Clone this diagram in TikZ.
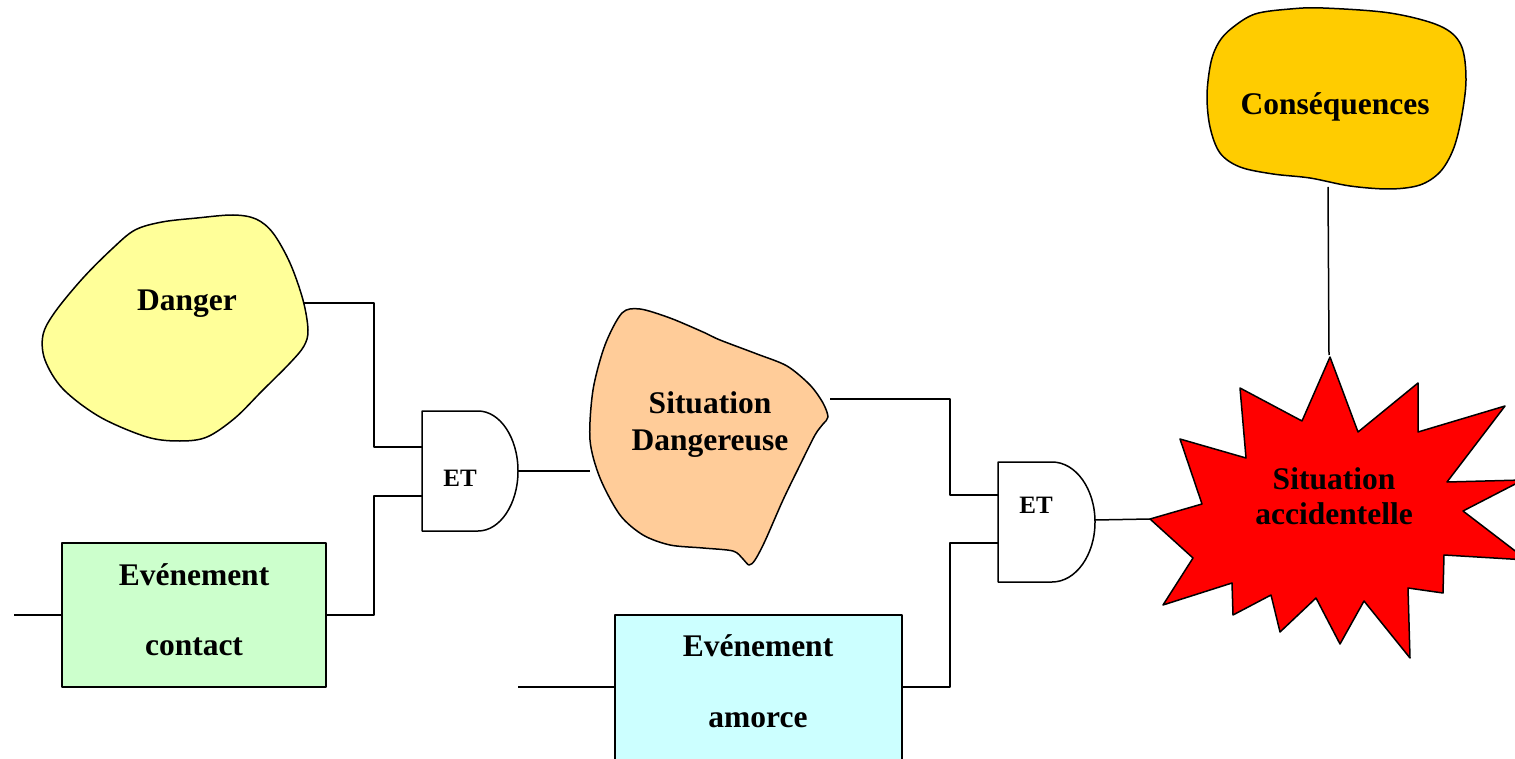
\documentclass[tikz,border=0pt]{standalone}
\usepackage{fontspec}
\setmainfont{Liberation Serif}
\begin{document}
\begin{tikzpicture}[x=1pt,y=1pt,line join=round,
  outline/.style={draw=black,line width=1.5pt},
  wire/.style={draw=black,line width=1.5pt},
  label/.style={font=\bfseries\fontsize{31.5}{36}\selectfont,inner sep=0pt,align=center},
  gatelabel/.style={font=\bfseries\fontsize{25}{30}\selectfont,inner sep=0pt},
  gate/.style={outline,fill=white}]
\useasboundingbox (0,0) rectangle (1515,-759);
\clip (0,0) rectangle (1515,-759);

% Danger blob
\draw[outline,fill={rgb,255:red,255;green,255;blue,153}]
  plot[smooth cycle,tension=0.55] coordinates {
  (113,-248) (135,-230) (162,-222) (197,-218) (233,-215) (256,-219) (273,-233)
  (290,-263) (303,-300) (308,-330) (304,-346) (290,-363) (262,-391) (235,-418)
  (207,-437) (180,-441) (147,-437) (100,-417) (63,-389) (45,-360) (43,-335)
  (55,-312) (83,-278)};
\node[label] (danger) at (187,-304) {Danger};
\coordinate (dangerR) at (304,-303);

% Situation dangereuse blob
\draw[outline,fill={rgb,255:red,255;green,204;blue,153}]
  plot[smooth cycle,tension=0.5] coordinates {
  (622,-313) (640,-309) (670,-318) (703,-332) (720,-340) (757,-354) (787,-366)
  (810,-385) (823,-403) (828,-417) (823,-424) (815,-435) (800,-465) (783,-500)
  (765,-541) (755,-560) (749,-565) (743,-559) (733,-551) (703,-548) (670,-545)
  (643,-535) (620,-515) (600,-478) (590,-440) (593,-390) (605,-345)};
\node[label] (sitdang) at (710,-425) {Situation\\[1pt]Dangereuse};
\coordinate (sitdangL) at (590,-471);
\coordinate (sitdangR) at (830,-399);

% Consequences blob
\draw[outline,fill={rgb,255:red,255;green,204;blue,0}]
  plot[smooth cycle,tension=0.55] coordinates {
  (1232,-28) (1255,-14) (1290,-9) (1323,-8) (1390,-13) (1440,-26) (1461,-45)
  (1466,-80) (1461,-120) (1453,-150) (1440,-172) (1420,-185) (1390,-189)
  (1350,-186) (1310,-178) (1273,-174) (1240,-167) (1220,-153) (1210,-127)
  (1207,-95) (1211,-62) (1219,-42)};
\node[label] (cons) at (1335,-107) {Conséquences};
\coordinate (consB) at (1328,-187);

% Situation accidentelle burst
\draw[outline,fill={rgb,255:red,255;green,0;blue,0}]
  (1150,-519) -- (1202,-504) -- (1180,-439) -- (1246,-458) -- (1240,-388)
  -- (1302,-421) -- (1330,-357) -- (1358,-432) -- (1418,-383) -- (1418,-432)
  -- (1505,-406) -- (1447,-482) -- (1523,-480) -- (1463,-511) -- (1527,-560)
  -- (1444,-555) -- (1443,-593) -- (1408,-588) -- (1410,-658) -- (1364,-601)
  -- (1340,-644) -- (1316,-598) -- (1280,-632) -- (1271,-595) -- (1233,-615)
  -- (1232,-583) -- (1163,-605) -- (1193,-558) -- cycle;
\node[label] (sitacc) at (1334,-496) {Situation\\[-1pt]accidentelle};
\coordinate (sitaccL) at (1150,-519);
\coordinate (sitaccT) at (1329,-355);

% Event boxes
\draw[outline,fill={rgb,255:red,204;green,255;blue,204}] (62,-543) rectangle (326,-687);
\node[label] (contact1) at (194,-575) {Evénement};
\node[label] (contact2) at (194,-647) {contact};
\coordinate (contactL) at (62,-615);
\coordinate (contactR) at (326,-615);
\coordinate (contactIn) at (14,-615);

\draw[outline,fill={rgb,255:red,204;green,255;blue,255}] (615,-615) rectangle (902,-770);
\node[label] (amorce1) at (758,-646) {Evénement};
\node[label] (amorce2) at (758,-720) {amorce};
\coordinate (amorceL) at (615,-687);
\coordinate (amorceR) at (902,-687);
\coordinate (amorceIn) at (518,-687);

% AND gates
\draw[gate] (422,-411) -- (478,-411) arc[start angle=90,end angle=-90,x radius=40,y radius=60] -- (422,-531) -- cycle;
\node[gatelabel] (et1) at (460,-478) {ET};
\coordinate (g1a) at (422,-447);
\coordinate (g1b) at (422,-496);
\coordinate (g1out) at (518,-471);

\draw[gate] (998,-462) -- (1052,-462) arc[start angle=90,end angle=-90,x radius=43,y radius=60] -- (998,-582) -- cycle;
\node[gatelabel] (et2) at (1036,-505) {ET};
\coordinate (g2a) at (998,-495);
\coordinate (g2b) at (998,-543);
\coordinate (g2out) at (1095,-520);

% Wiring
\draw[wire] (dangerR) -- (374,-303) |- (g1a);
\draw[wire] (contactR) -- (374,-615) |- (g1b);
\draw[wire] (contactIn) -- (contactL);
\draw[wire] (g1out) -- (sitdangL);
\draw[wire] (sitdangR) -- (950,-399) |- (g2a);
\draw[wire] (amorceR) -- (950,-687) |- (g2b);
\draw[wire] (amorceIn) -- (amorceL);
\draw[wire] (g2out) -- (sitaccL);
\draw[wire] (consB) -- (sitaccT);
\end{tikzpicture}
\end{document}
